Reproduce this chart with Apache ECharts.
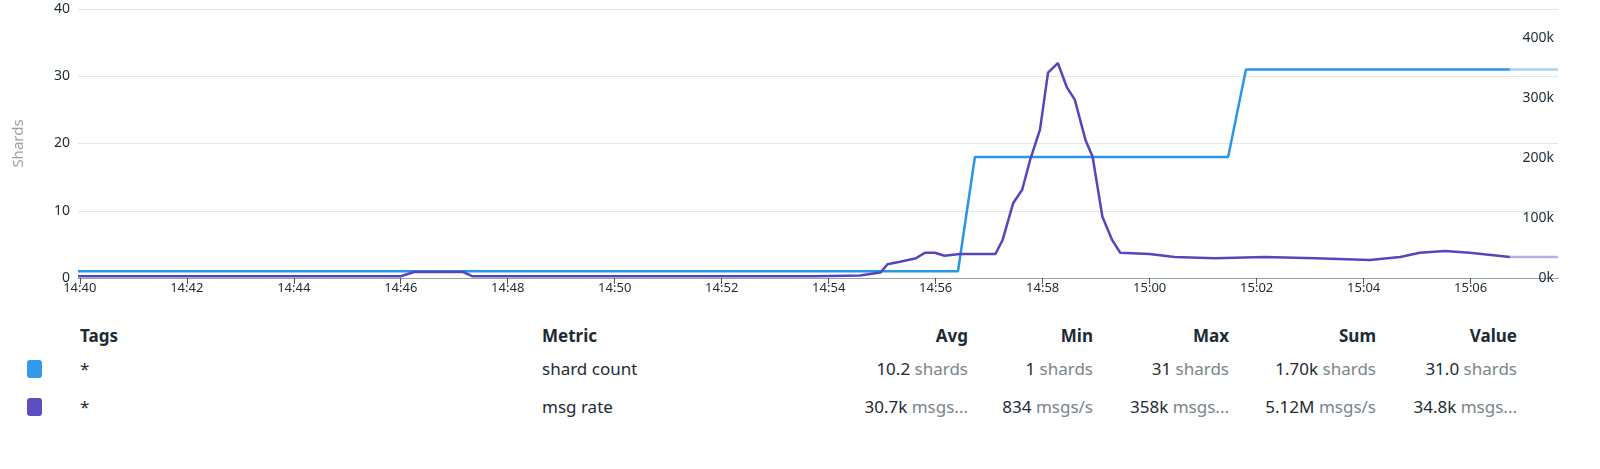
<!DOCTYPE html>
<html><head><meta charset="utf-8">
<script src="https://cdn.jsdelivr.net/npm/echarts@6/dist/echarts.min.js"></script>
<style>
body{margin:0;background:#fff;font-family:"Noto Sans","Open Sans",sans-serif;}
#c{position:absolute;left:0;top:0;width:1600px;height:310px;}
.t{position:absolute;font-size:17px;color:#1c2b34;white-space:nowrap;line-height:20px;}
.h{font-weight:bold;}
.r{text-align:right;width:200px;}
.u{color:#79858d;}
.sw{position:absolute;width:15px;height:18px;border-radius:3px;left:27px;}
</style></head><body>
<div id="c"></div>
<div id="tbl"></div>
<script>
const day = '2024-01-01 ';
const shardTimes = ['14:39:58','14:56:25','14:56:44','15:01:28','15:01:48','15:06:44'];
const shardValues = [1,1,18,18,31,31];
const shardFadeTimes = ['15:06:44','15:07:38'];
const shardFadeValues = [31,31];
const rateTimes = ['14:39:58','14:46:00','14:46:15','14:47:10','14:47:20','14:53:45','14:54:35','14:54:58','14:55:06','14:55:20','14:55:38','14:55:48','14:55:59','14:56:10','14:56:27','14:57:07','14:57:15','14:57:27','14:57:37','14:57:46','14:57:57','14:58:06','14:58:17','14:58:27','14:58:36','14:58:48','14:58:56','14:59:07','14:59:18','14:59:27','15:00:00','15:00:28','15:01:13','15:02:09','15:03:06','15:04:07','15:04:41','15:05:03','15:05:31','15:05:59','15:06:44'];
const rateValues = [3000,3000,10000,10000,3000,3000,4000,9000,23000,27000,33000,42000,42000,37000,40000,40000,63000,125000,147000,197000,247000,342000,358000,318000,297000,230000,202000,102000,63000,42000,40000,35000,33000,35000,33000,30000,35000,42000,45000,42000,35000];
const rateFadeTimes = ['15:06:44','15:07:38'];
const rateFadeValues = [35000,34800];
const xMin = '14:39:58', xMax = '15:07:38';
const leftTicks = {min:0,max:40,interval:10};
const rightTicks = {min:0,max:448000,interval:100000};
const headers = ['Tags','Metric','Avg','Min','Max','Sum','Value'];
const rows = [
 {name:'shard count', color:'#3399ea', stats:[['10.2','shards'],['1','shards'],['31','shards'],['1.70k','shards'],['31.0','shards']]},
 {name:'msg rate', color:'#5d4ec2', stats:[['30.7k','msgs...'],['834','msgs/s'],['358k','msgs...'],['5.12M','msgs/s'],['34.8k','msgs...']]}
];
const pair=(ts,vs)=>ts.map((t,i)=>[day+t,vs[i]]);
const chart = echarts.init(document.getElementById('c'));
const lineS=(name,d,color,yi,z)=>({name,type:'line',data:d,yAxisIndex:yi,showSymbol:false,symbol:'none',lineStyle:{color,width:2.5},itemStyle:{color},z,animation:false});
chart.setOption({
 animation:false,
 grid:{left:78,right:42,top:9,bottom:32},
 xAxis:{type:'time',min:day+xMin,max:day+xMax,interval:300000,
  axisLine:{lineStyle:{color:'#9aa0a4'}},axisTick:{show:true,length:6,lineStyle:{color:'#555'}},
  splitLine:{show:false},
  axisLabel:{color:'#1c2b34',fontSize:13,fontFamily:'Noto Sans',margin:4,
   formatter:v=>{const d=new Date(v);return String(d.getHours()).padStart(2,'0')+':'+String(d.getMinutes()).padStart(2,'0');}}},
 yAxis:[
  {type:'value',...leftTicks,name:'Shards',nameLocation:'middle',nameGap:52,
   nameTextStyle:{color:'#98a2a8',fontSize:15,fontFamily:'Noto Sans'},
   axisLine:{show:false},axisTick:{show:false},
   splitLine:{lineStyle:{color:'#e4e6e8'}},
   axisLabel:{color:'#1c2b34',fontSize:14,fontFamily:'Noto Sans',margin:8}},
  {type:'value',...rightTicks,position:'right',
   axisLine:{show:false},axisTick:{show:false},splitLine:{show:false},
   axisLabel:{inside:true,color:'#1c2b34',fontSize:14,fontFamily:'Noto Sans',margin:4,
    showMaxLabel:false,formatter:v=>(v/1000)+'k'}}
 ],
 series:[
  lineS('shard count',pair(shardTimes,shardValues),'#2b95e6',0,3),
  lineS('shard fade',pair(shardFadeTimes,shardFadeValues),'#a9d3f6',0,2),
  lineS('msg rate',pair(rateTimes,rateValues),'#5a44bd',1,4),
  lineS('msg fade',pair(rateFadeTimes,rateFadeValues),'#b9b0e2',1,2)
 ]
});
// table
const tbl=document.getElementById('tbl');
const rightEdges=[968,1093,1229,1376,1517];
let html='';
html+=`<div class="t h" style="left:80px;top:326px">${headers[0]}</div>`;
html+=`<div class="t h" style="left:542px;top:326px">${headers[1]}</div>`;
headers.slice(2).forEach((h,i)=>{html+=`<div class="t h r" style="left:${rightEdges[i]-200}px;top:326px">${h}</div>`;});
rows.forEach((r,ri)=>{
 const top=359+ri*38;
 html+=`<div class="sw" style="top:${top+1}px;background:${r.color}"></div>`;
 html+=`<div class="t" style="left:80px;top:${top}px">*</div>`;
 html+=`<div class="t" style="left:542px;top:${top}px">${r.name}</div>`;
 r.stats.forEach((s,i)=>{html+=`<div class="t r" style="left:${rightEdges[i]-200}px;top:${top}px">${s[0]} <span class="u">${s[1]}</span></div>`;});
});
tbl.innerHTML=html;
</script>
</body></html>
